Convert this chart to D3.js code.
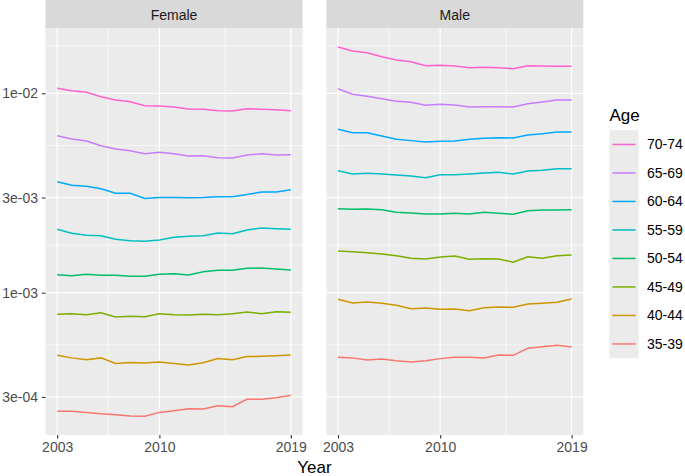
<!DOCTYPE html>
<html>
<head>
<meta charset="utf-8">
<script src="https://cdn.jsdelivr.net/npm/d3@7"></script>
<style>
  body { margin: 0; background: #fff; }
  text { font-family: "Liberation Sans", Arial, sans-serif; }
</style>
</head>
<body>
<script>
var width = 685,
    height = 476;

var years = d3.range(2003, 2020);
var ages = ["35-39", "40-44", "45-49", "50-54", "55-59", "60-64", "65-69", "70-74"];
var colors = ["#F8766D", "#CD9600", "#7CAE00", "#00BE67", "#00BFC4", "#00A9FF", "#C77CFF", "#FF61CC"];
var sexes = ["Female", "Male"];
var yTicks = [3e-4, 1e-3, 3e-3, 1e-2];
var yTickLabels = ["3e-04", "1e-03", "3e-03", "1e-02"];
var xTicks = [2003, 2010, 2019];

// female rates, 2003..2019
var f3539 = [0.000254, 0.000254, 0.000251, 0.000247, 0.000244, 0.000241, 0.000240, 0.000251, 0.000256, 0.000262, 0.000261, 0.000271, 0.000268, 0.000292, 0.000292, 0.000297, 0.000306];
var f4044 = [0.000485, 0.000471, 0.000461, 0.000471, 0.000442, 0.000447, 0.000444, 0.000449, 0.000442, 0.000434, 0.000445, 0.000467, 0.000461, 0.000478, 0.000480, 0.000483, 0.000487];
var f4549 = [0.000779, 0.000785, 0.000776, 0.000794, 0.000755, 0.000761, 0.000758, 0.000785, 0.000776, 0.000773, 0.000779, 0.000776, 0.000785, 0.000800, 0.000785, 0.000803, 0.000797];
var f5054 = [0.001231, 0.001217, 0.001237, 0.001223, 0.001223, 0.001208, 0.001208, 0.001237, 0.001245, 0.001227, 0.001274, 0.001295, 0.001295, 0.001325, 0.001330, 0.001315, 0.001300];
var f5559 = [0.002079, 0.001986, 0.001941, 0.001932, 0.001853, 0.001823, 0.001811, 0.001838, 0.001896, 0.001918, 0.001932, 0.001993, 0.001977, 0.002062, 0.002111, 0.002094, 0.002079];
var f6064 = [0.00360, 0.00346, 0.00342, 0.00332, 0.00315, 0.00315, 0.00297, 0.00300, 0.00300, 0.00299, 0.00300, 0.00303, 0.00303, 0.00311, 0.00320, 0.00320, 0.00328];
var f6569 = [0.00613, 0.00590, 0.00576, 0.00546, 0.00526, 0.00515, 0.00498, 0.00506, 0.00498, 0.00485, 0.00486, 0.00475, 0.00474, 0.00490, 0.00498, 0.00490, 0.00492];
var f7074 = [0.01059, 0.01030, 0.01012, 0.00961, 0.00926, 0.00908, 0.00867, 0.00864, 0.00854, 0.00834, 0.00832, 0.00818, 0.00815, 0.00837, 0.00832, 0.00828, 0.00818];

// male rates, 2003..2019
var m3539 = [0.000474, 0.000471, 0.000460, 0.000465, 0.000456, 0.000449, 0.000456, 0.000467, 0.000474, 0.000474, 0.000471, 0.000487, 0.000485, 0.000526, 0.000536, 0.000545, 0.000534];
var m4044 = [0.000927, 0.000888, 0.000898, 0.000885, 0.000865, 0.000831, 0.000838, 0.000826, 0.000829, 0.000812, 0.000841, 0.000848, 0.000845, 0.000878, 0.000885, 0.000895, 0.000930];
var m4549 = [0.001619, 0.001606, 0.001587, 0.001564, 0.001533, 0.001488, 0.001476, 0.001510, 0.001528, 0.001471, 0.001481, 0.001476, 0.001421, 0.001515, 0.001488, 0.001533, 0.001546];
var m5054 = [0.002638, 0.002620, 0.002629, 0.002607, 0.002530, 0.002510, 0.002481, 0.002481, 0.002501, 0.002481, 0.002530, 0.002501, 0.002472, 0.002577, 0.002598, 0.002598, 0.002607];
var m5559 = [0.004090, 0.003937, 0.003969, 0.003937, 0.003892, 0.003848, 0.003772, 0.003905, 0.003905, 0.003937, 0.003983, 0.004015, 0.003937, 0.004076, 0.004109, 0.004186, 0.004186];
var m6064 = [0.00660, 0.00634, 0.00634, 0.00611, 0.00588, 0.00579, 0.00570, 0.00575, 0.00576, 0.00588, 0.00595, 0.00599, 0.00597, 0.00618, 0.00627, 0.00640, 0.00640];
var m6569 = [0.01054, 0.00989, 0.00966, 0.00940, 0.00912, 0.00901, 0.00871, 0.00881, 0.00874, 0.00854, 0.00857, 0.00857, 0.00854, 0.00887, 0.00905, 0.00926, 0.00926];
var m7074 = [0.01707, 0.01630, 0.01598, 0.01526, 0.01469, 0.01441, 0.01375, 0.01381, 0.01370, 0.01344, 0.01350, 0.01344, 0.01328, 0.01375, 0.01370, 0.01366, 0.01366];

var series = {
  Female: [f3539, f4044, f4549, f5054, f5559, f6064, f6569, f7074],
  Male: [m3539, m4044, m4549, m5054, m5559, m6064, m6569, m7074]
};

var svg = d3.select("body").append("svg")
    .attr("width", width)
    .attr("height", height)
    .style("background", "#fff");

var panelW = 257,
    panelTop = 28,
    panelBottom = 435,
    stripH = 28,
    panelX = [45.5, 326.3];

var x = d3.scaleLinear()
    .domain([2002.2, 2019.8])
    .range([0, panelW]);

var y = d3.scaleLog()
    .domain([1.933e-4, 2.126e-2])
    .range([panelBottom, panelTop]);

// minor breaks sit halfway between majors on the log axis
var yMinor = [Math.sqrt(3e-4 * 1e-3), Math.sqrt(1e-3 * 3e-3), Math.sqrt(3e-3 * 1e-2), Math.sqrt(1e-2 * 3e-2)];
var xMinor = [2006.5, 2014.5];

var line = d3.line()
    .x(function(d, i) { return x(years[i]); })
    .y(function(d) { return y(d); });

sexes.forEach(function(sex, k) {
  var g = svg.append("g").attr("transform", "translate(" + panelX[k] + ",0)");

  g.append("rect")
      .attr("x", 0).attr("y", 0)
      .attr("width", panelW).attr("height", stripH)
      .attr("fill", "#D9D9D9");
  g.append("text")
      .attr("x", panelW / 2).attr("y", 19.5)
      .attr("text-anchor", "middle")
      .attr("font-size", 14)
      .attr("fill", "#1A1A1A")
      .text(sex);

  g.append("rect")
      .attr("x", 0).attr("y", panelTop)
      .attr("width", panelW).attr("height", panelBottom - panelTop)
      .attr("fill", "#EBEBEB");

  g.selectAll(".ymin").data(yMinor).enter().append("line")
      .attr("x1", 0).attr("x2", panelW)
      .attr("y1", y).attr("y2", y)
      .attr("stroke", "#fff").attr("stroke-width", 0.6);
  g.selectAll(".xmin").data(xMinor).enter().append("line")
      .attr("x1", x).attr("x2", x)
      .attr("y1", panelTop).attr("y2", panelBottom)
      .attr("stroke", "#fff").attr("stroke-width", 0.6);
  g.selectAll(".ymaj").data(yTicks).enter().append("line")
      .attr("x1", 0).attr("x2", panelW)
      .attr("y1", y).attr("y2", y)
      .attr("stroke", "#fff").attr("stroke-width", 1.2);
  g.selectAll(".xmaj").data(xTicks).enter().append("line")
      .attr("x1", x).attr("x2", x)
      .attr("y1", panelTop).attr("y2", panelBottom)
      .attr("stroke", "#fff").attr("stroke-width", 1.2);

  g.selectAll(".series").data(series[sex]).enter().append("path")
      .attr("d", line)
      .attr("fill", "none")
      .attr("stroke", function(d, i) { return colors[i]; })
      .attr("stroke-width", 1.5);

  var xAxis = g.append("g")
      .attr("transform", "translate(0," + panelBottom + ")")
      .call(d3.axisBottom(x).tickValues(xTicks).tickFormat(d3.format("d")).tickSize(3.5).tickPadding(4));
  xAxis.select(".domain").remove();
  xAxis.selectAll("line").attr("stroke", "#333").attr("stroke-width", 1.1);
  xAxis.selectAll("text").attr("font-size", 14).attr("fill", "#4D4D4D")
      .attr("font-family", "Liberation Sans, Arial, sans-serif");

  if (k === 0) {
    var yAxis = g.append("g")
        .call(d3.axisLeft(y).tickValues(yTicks)
          .tickFormat(function(d, i) { return yTickLabels[i]; })
          .tickSize(3.5).tickPadding(4));
    yAxis.select(".domain").remove();
    yAxis.selectAll("line").attr("stroke", "#333").attr("stroke-width", 1.1);
    yAxis.selectAll("text").attr("font-size", 14).attr("fill", "#4D4D4D")
        .attr("font-family", "Liberation Sans, Arial, sans-serif");
  }
});

svg.append("text")
    .attr("x", (panelX[0] + panelX[1] + panelW) / 2)
    .attr("y", 473)
    .attr("text-anchor", "middle")
    .attr("font-size", 17)
    .attr("fill", "#000")
    .text("Year");

// legend, reversed order like ggplot's default for this plot
var legend = svg.append("g").attr("transform", "translate(609.5,0)");
legend.append("text")
    .attr("x", 0).attr("y", 121)
    .attr("font-size", 17)
    .text("Age");
var keyH = 28.5, keyTop = 130.2;
legend.append("rect")
    .attr("x", 0).attr("y", keyTop)
    .attr("width", 29).attr("height", keyH * ages.length)
    .attr("fill", "#EBEBEB");
var rev = ages.slice().reverse();
var revCol = colors.slice().reverse();
var item = legend.selectAll(".item").data(rev).enter().append("g")
    .attr("transform", function(d, i) { return "translate(0," + (keyTop + keyH * i + keyH / 2) + ")"; });
item.append("line")
    .attr("x1", 2.9).attr("x2", 26.1)
    .attr("stroke", function(d, i) { return revCol[i]; })
    .attr("stroke-width", 1.5);
item.append("text")
    .attr("x", 37.5).attr("y", 5)
    .attr("font-size", 14)
    .attr("fill", "#000")
    .text(function(d) { return d; });
</script>
</body>
</html>
